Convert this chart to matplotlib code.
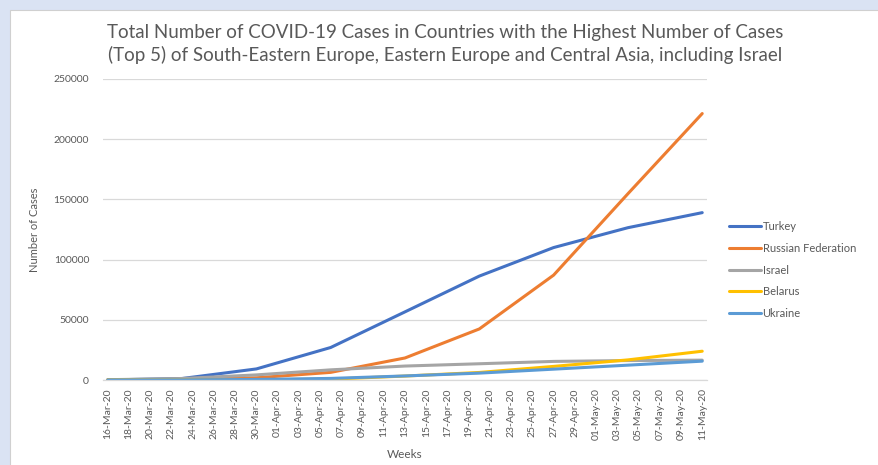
import matplotlib
matplotlib.use("Agg")
import matplotlib.pyplot as plt
import matplotlib.dates as mdates
from matplotlib.patches import Rectangle
import datetime as dt

plt.rcParams['font.family'] = ['Lato', 'DejaVu Sans']

weeks = ["2020-03-16", "2020-03-23", "2020-03-30", "2020-04-06", "2020-04-13",
         "2020-04-20", "2020-04-27", "2020-05-04", "2020-05-11"]
series_names = ["Turkey", "Russian Federation", "Israel", "Belarus", "Ukraine"]
turkey = [47, 1236, 9200, 27000, 56600, 86300, 110000, 126500, 139000]
russia = [90, 438, 1830, 6340, 18300, 42400, 87100, 154700, 221300]
israel = [250, 1238, 4247, 8430, 11590, 13490, 15440, 16150, 16480]
belarus = [36, 76, 152, 700, 3281, 6264, 11289, 16705, 23906]
ukraine = [7, 73, 475, 1319, 3372, 5710, 9009, 12331, 15648]
colors = ["#4472C4", "#ED7D31", "#A5A5A5", "#FFC000", "#5B9BD5"]
title = ("Total Number of COVID-19 Cases in Countries with the Highest Number of Cases\n"
         "(Top 5) of South-Eastern Europe, Eastern Europe and Central Asia, including Israel")

dates = [dt.datetime.strptime(d, "%Y-%m-%d") for d in weeks]

fig = plt.figure(figsize=(8.79, 4.65), dpi=100)
fig.patch.set_facecolor("#DAE3F3")
fig.patches.append(Rectangle((10/879, -0.01), 1.0, 1 - 10/465 + 0.01,
                             transform=fig.transFigure, facecolor="white",
                             edgecolor="#D0D0D0", linewidth=0.8, zorder=-5))

ax = fig.add_axes([103/879, 1 - 380/465, (707-103)/879, (380-79)/465])
ax.set_zorder(2)
ax.set_facecolor("none")

for name, vals, c in zip(series_names, [turkey, russia, israel, belarus, ukraine], colors):
    ax.plot(dates, vals, color=c, linewidth=2.2, label=name, solid_capstyle="round")

start = dates[0]
end = dates[-1]
ax.set_xlim(start - dt.timedelta(days=0.45), end + dt.timedelta(days=0.45))
ax.set_ylim(0, 250000)
ticks = [start + dt.timedelta(days=2*i) for i in range(29)]
ax.set_xticks(ticks)
ax.xaxis.set_major_formatter(mdates.DateFormatter("%d-%b-%y"))
ax.set_yticks([0, 50000, 100000, 150000, 200000, 250000])
ax.yaxis.set_major_formatter(matplotlib.ticker.FuncFormatter(lambda v, p: f"{int(v)}"))
plt.setp(ax.get_xticklabels(), rotation=90)
ax.tick_params(axis="both", length=0, labelsize=7.5, colors="#595959")
ax.tick_params(axis="x", pad=6)
ax.tick_params(axis="y", pad=10)
ax.grid(axis="y", color="#D9D9D9", linewidth=0.9)
ax.set_axisbelow(True)
for s in ["top", "right", "left"]:
    ax.spines[s].set_visible(False)
ax.spines["bottom"].set_color("#D9D9D9")
ax.spines["bottom"].set_linewidth(0.9)

ax.set_ylabel("Number of Cases", fontsize=8, color="#595959", labelpad=10)
ax.set_xlabel("Weeks", fontsize=8.5, color="#595959", labelpad=6)

fig.text(0.506, 0.905, title, ha="center", va="center", fontsize=13.5,
         color="#595959", linespacing=1.3, zorder=3)

leg = ax.legend(loc="upper left", bbox_to_anchor=(729/879, 1 - 221/465),
                bbox_transform=fig.transFigure, frameon=False, fontsize=8,
                handlelength=2.9, handletextpad=0.12, labelspacing=0.97,
                borderaxespad=0, borderpad=0)
for t in leg.get_texts():
    t.set_color("#595959")

fig.savefig("out.png", dpi=100, facecolor=fig.get_facecolor())
